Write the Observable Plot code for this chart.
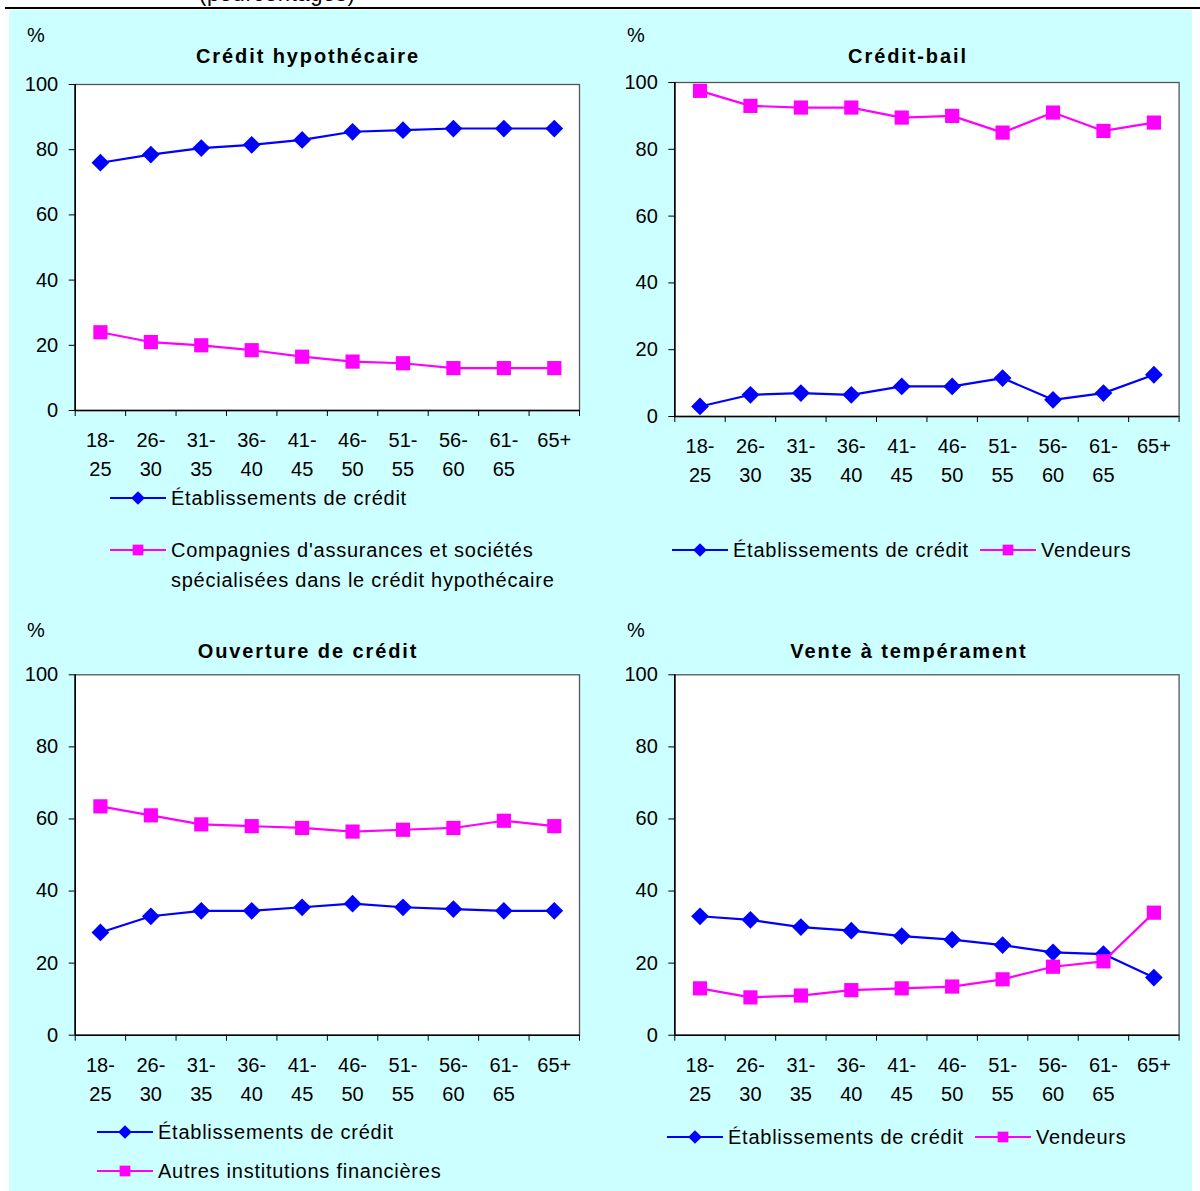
<!DOCTYPE html>
<html>
<head>
<meta charset="utf-8">
<script src="https://cdn.jsdelivr.net/npm/d3@7"></script>
<script src="https://cdn.jsdelivr.net/npm/@observablehq/plot@0.6"></script>
<style>
  html, body { margin: 0; padding: 0; background: #ffffff; }
  body { width: 1200px; height: 1191px; position: relative; overflow: hidden;
         font-family: "Liberation Sans", Arial, sans-serif; color: #000; }
  #bg { position: absolute; left: 9px; top: 10px; width: 1183px; height: 1181px; background: #ccffff; }
  #hr { position: absolute; left: 5px; top: 7px; width: 1195px; height: 2px; background: #000; }
  .t { position: absolute; white-space: nowrap; font-size: 20px; line-height: 20px; }
  .title { font-weight: bold; letter-spacing: 1.9px; transform: translateX(-50%); }
  .leg { position: absolute; white-space: pre; font-size: 20px; line-height: 30px; letter-spacing: 0.75px; }
  .sw { position: absolute; }
  svg.plot { position: absolute; }
</style>
</head>
<body>
<div id="bg"></div>
<div id="hr"></div>
<div class="t" style="left:199px; top:-17px; font-size:22px; line-height:22px; letter-spacing:0.6px;">(pourcentages)</div>
<div id="root"></div>
<script>
// ---------- data ----------
const ages = ["18-25", "26-30", "31-35", "36-40", "41-45", "46-50", "51-55", "56-60", "61-65", "65+"];
const ageTickLabels = ["18-\n25", "26-\n30", "31-\n35", "36-\n40", "41-\n45", "46-\n50", "51-\n55", "56-\n60", "61-\n65", "65+"];
const yTicks = [0, 20, 40, 60, 80, 100];

const titles = ["Crédit hypothécaire", "Crédit-bail", "Ouverture de crédit", "Vente à tempérament"];
const unitLabel = "%";

const nameEtab = "Établissements de crédit";
const nameAssur = "Compagnies d'assurances et sociétés\nspécialisées dans le crédit hypothécaire";
const nameVend = "Vendeurs";
const nameAutres = "Autres institutions financières";

// Crédit hypothécaire
const hypoEtab  = [76, 78.5, 80.5, 81.5, 83, 85.5, 86, 86.5, 86.5, 86.5];
const hypoAssur = [24, 21, 20, 18.5, 16.5, 15, 14.5, 13, 13, 13];
// Crédit-bail
const bailEtab  = [3, 6.5, 7, 6.5, 9, 9, 11.5, 5, 7, 12.5];
const bailVend  = [97.5, 93, 92.5, 92.5, 89.5, 90, 85, 91, 85.5, 88];
// Ouverture de crédit
const ouvEtab   = [28.5, 33, 34.5, 34.5, 35.5, 36.5, 35.5, 35, 34.5, 34.5];
const ouvAutres = [63.5, 61, 58.5, 58, 57.5, 56.5, 57, 57.5, 59.5, 58];
// Vente à tempérament
const venteEtab = [33, 32, 30, 29, 27.5, 26.5, 25, 23, 22.5, 16];
const venteVend = [13, 10.5, 11, 12.5, 13, 13.5, 15.5, 19, 20.5, 34];

// ---------- styling ----------
const BLUE = "#0000ff";
const MAGENTA = "#ff00ff";
const FONT = '"Liberation Sans", Arial, sans-serif';

const root = document.getElementById("root");
const rows = (vals) => vals.map((v, i) => ({i, age: ages[i], v}));

function panel({ox, oy, ml, mt, plotH, height, blue, pink, title, titleX, titleY, pctX, pctY}) {
  const xDomain = [-0.5, ages.length - 0.5];
  const boundaries = d3.range(ages.length + 1).map(i => i - 0.5);
  const centers = d3.range(ages.length);
  const svg = Plot.plot({
    width: 600,
    height,
    marginLeft: ml,
    marginRight: 600 - ml - (579 - 74.7),
    marginTop: mt,
    marginBottom: height - mt - plotH,
    x: {domain: xDomain, label: null},
    y: {domain: [0, 100], label: null},
    style: {background: "transparent", color: "#000", fontFamily: FONT, fontSize: "20px", overflow: "visible"},
    marks: [
      Plot.frame({fill: "white", stroke: "#555555", strokeWidth: 1.3}),
      Plot.ruleY([0], {stroke: "#000", strokeWidth: 1.6}),
      Plot.ruleX([xDomain[0]], {stroke: "#000", strokeWidth: 1.6}),
      Plot.axisY(yTicks, {tickSize: 6, tickPadding: 11, fontSize: 20, label: null, stroke: "#000"}),
      Plot.axisX(boundaries, {tickSize: 6, tickFormat: () => "", label: null, stroke: "#000"}),
      Plot.axisX(centers, {tickSize: 0, tickPadding: 16, tickFormat: i => ageTickLabels[i], fontSize: 20, lineHeight: 1.45, label: null}),
      Plot.line(rows(blue), {x: "i", y: "v", stroke: BLUE, strokeWidth: 2.2}),
      Plot.dot(rows(blue), {x: "i", y: "v", symbol: "diamond2", r: 8, fill: BLUE, stroke: "none"}),
      Plot.line(rows(pink), {x: "i", y: "v", stroke: MAGENTA, strokeWidth: 2.2}),
      Plot.dot(rows(pink), {x: "i", y: "v", symbol: "square", r: 8, fill: MAGENTA, stroke: "none"})
    ]
  });
  svg.classList.add("plot");
  svg.style.left = ox + "px";
  svg.style.top = oy + "px";
  root.appendChild(svg);

  const t = document.createElement("div");
  t.className = "t title";
  t.textContent = title;
  t.style.left = titleX + "px";
  t.style.top = (titleY - 10) + "px";
  root.appendChild(t);

  const p = document.createElement("div");
  p.className = "t";
  p.textContent = unitLabel;
  p.style.left = pctX + "px";
  p.style.top = (pctY - 10) + "px";
  root.appendChild(p);
}

function legendItem({x, y, color, symbol, text}) {
  const ns = "http://www.w3.org/2000/svg";
  const s = document.createElementNS(ns, "svg");
  s.setAttribute("width", 56); s.setAttribute("height", 18);
  s.setAttribute("class", "sw");
  s.style.left = x + "px"; s.style.top = (y - 9) + "px";
  const ln = document.createElementNS(ns, "line");
  ln.setAttribute("x1", 0); ln.setAttribute("x2", 56); ln.setAttribute("y1", 9); ln.setAttribute("y2", 9);
  ln.setAttribute("stroke", color); ln.setAttribute("stroke-width", 2);
  s.appendChild(ln);
  const m = document.createElementNS(ns, "path");
  m.setAttribute("d", d3.symbol(symbol === "diamond" ? d3.symbolDiamond2 : d3.symbolSquare, symbol === "diamond" ? 120 : 115)());
  m.setAttribute("transform", "translate(28,9)");
  m.setAttribute("fill", color);
  s.appendChild(m);
  root.appendChild(s);
  const d = document.createElement("div");
  d.className = "leg";
  d.textContent = text;
  d.style.left = (x + 61) + "px";
  d.style.top = (y - 15) + "px";
  root.appendChild(d);
}

panel({ox: 0, oy: 70, ml: 74.7, mt: 14, plotH: 326, height: 420, blue: hypoEtab, pink: hypoAssur,
       title: titles[0], titleX: 308, titleY: 56, pctX: 27, pctY: 35});
panel({ox: 600, oy: 70, ml: 74.3, mt: 12, plotH: 334, height: 426, blue: bailEtab, pink: bailVend,
       title: titles[1], titleX: 908, titleY: 56, pctX: 627, pctY: 35});
panel({ox: 0, oy: 660, ml: 74.7, mt: 14.3, plotH: 360.4, height: 455, blue: ouvEtab, pink: ouvAutres,
       title: titles[2], titleX: 308, titleY: 651, pctX: 27, pctY: 630});
panel({ox: 600, oy: 660, ml: 74.3, mt: 14.3, plotH: 360.4, height: 455, blue: venteEtab, pink: venteVend,
       title: titles[3], titleX: 909, titleY: 651, pctX: 627, pctY: 630});

legendItem({x: 110, y: 498, color: BLUE, symbol: "diamond", text: nameEtab});
legendItem({x: 110, y: 550, color: MAGENTA, symbol: "square", text: nameAssur});
legendItem({x: 672, y: 550, color: BLUE, symbol: "diamond", text: nameEtab});
legendItem({x: 980, y: 550, color: MAGENTA, symbol: "square", text: nameVend});
legendItem({x: 97, y: 1132, color: BLUE, symbol: "diamond", text: nameEtab});
legendItem({x: 97, y: 1171, color: MAGENTA, symbol: "square", text: nameAutres});
legendItem({x: 667, y: 1137, color: BLUE, symbol: "diamond", text: nameEtab});
legendItem({x: 975, y: 1137, color: MAGENTA, symbol: "square", text: nameVend});
</script>
</body>
</html>
